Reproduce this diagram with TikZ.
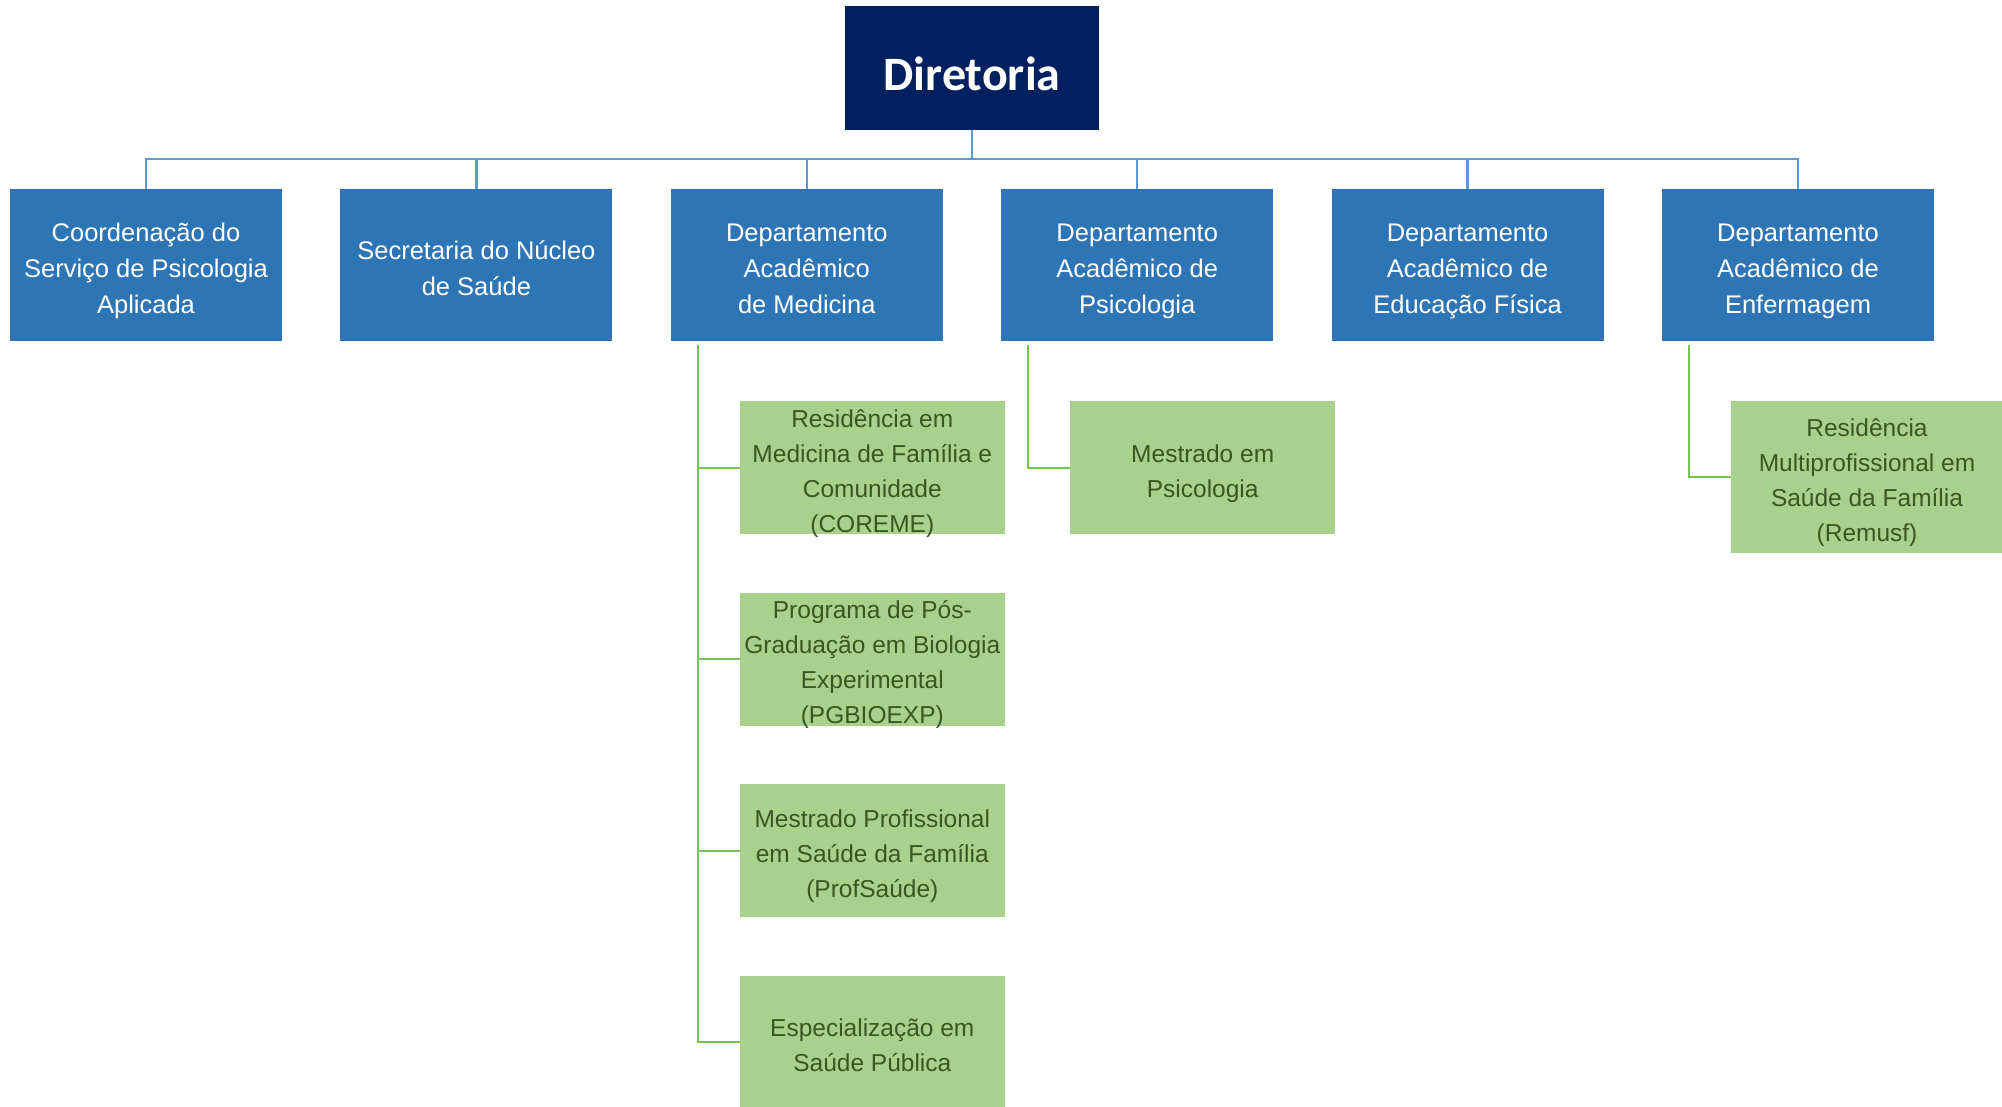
\documentclass[tikz,border=0pt]{standalone}
\usepackage{fontspec}
\setmainfont{Liberation Sans}
\newfontfamily\dirfont{Carlito}
\usetikzlibrary{positioning}
\definecolor{dirblue}{RGB}{0,32,96}
\definecolor{deptblue}{RGB}{46,117,182}
\definecolor{lineblue}{RGB}{91,155,213}
\definecolor{progreen}{RGB}{169,209,142}
\definecolor{progtext}{RGB}{56,87,35}
\definecolor{linegreen}{RGB}{120,196,80}
\newcommand{\bluefont}{\fontsize{25.5pt}{36pt}\selectfont}
\newcommand{\greenfont}{\fontsize{24.5pt}{35pt}\selectfont}
\newcommand{\boxtext}[1]{\raisebox{-5pt}[\dimexpr\height-4pt\relax][\dimexpr\depth-4pt\relax]{\begin{tabular}{@{}c@{}}#1\end{tabular}}}

\begin{document}
\begin{tikzpicture}
    [dept/.style={fill=deptblue,text=white,minimum width=272pt,minimum height=152pt,inner sep=0pt,font=\bluefont},
    prog/.style={fill=progreen,text=progtext,minimum width=265pt,minimum height=133pt,inner sep=0pt,font=\greenfont},
    blueline/.style={draw=lineblue,line width=2.5pt},
    greenline/.style={draw=linegreen,line width=2pt}]
  \useasboundingbox (0,0) rectangle (2002pt,-1107pt);
  \node(dir) [fill=dirblue,text=white,minimum width=254pt,minimum height=124pt,font={\dirfont\bfseries\fontsize{48pt}{58pt}\selectfont}] at (972pt,-68pt) {\raisebox{-6pt}[\height][\depth]{Diretoria}};
  \node(dep1) [dept] at (146pt,-265pt) {\boxtext{Coordenação do\\Serviço de Psicologia\\Aplicada}};
  \node(dep2) [dept,right=58pt of dep1] {\boxtext{Secretaria do Núcleo\\de Saúde}};
  \node(dep3) [dept,right=58pt of dep2] {\boxtext{Departamento\\Acadêmico\\de Medicina}};
  \node(dep4) [dept,right=58pt of dep3] {\boxtext{Departamento\\Acadêmico de\\Psicologia}};
  \node(dep5) [dept,right=58pt of dep4] {\boxtext{Departamento\\Acadêmico de\\Educação Física}};
  \node(dep6) [dept,right=58pt of dep5] {\boxtext{Departamento\\Acadêmico de\\Enfermagem}};
  \foreach \n in {1,...,6}
    \draw[blueline] (dir.south) -- ++(0,-29pt) -| (dep\n.north);
  \node(med1) [prog,below right=60pt and 69pt of dep3.south west] {\boxtext{Residência em\\Medicina de Família e\\Comunidade\\(COREME)}};
  \node(med2) [prog,below=58pt of med1] {\boxtext{Programa de Pós-\\Graduação em Biologia\\Experimental\\(PGBIOEXP)}};
  \node(med3) [prog,below=58pt of med2] {\boxtext{Mestrado Profissional\\em Saúde da Família\\(ProfSaúde)}};
  \node(med4) [prog,below=58pt of med3] {\boxtext{Especialização em\\Saúde Pública}};
  \node(psi1) [prog,below right=60pt and 69pt of dep4.south west] {\boxtext{Mestrado em\\Psicologia}};
  \node(enf1) [prog,minimum width=272pt,minimum height=152pt,below right=60pt and 69pt of dep6.south west] {\boxtext{Residência\\Multiprofissional em\\Saúde da Família\\(Remusf)}};
  \foreach \n in {med1,med2,med3,med4}
    \draw[greenline] ([xshift=27pt,yshift=-4pt]dep3.south west) |- (\n.west);
  \draw[greenline] ([xshift=27pt,yshift=-4pt]dep4.south west) |- (psi1.west);
  \draw[greenline] ([xshift=27pt,yshift=-4pt]dep6.south west) |- (enf1.west);
\end{tikzpicture}
\end{document}
